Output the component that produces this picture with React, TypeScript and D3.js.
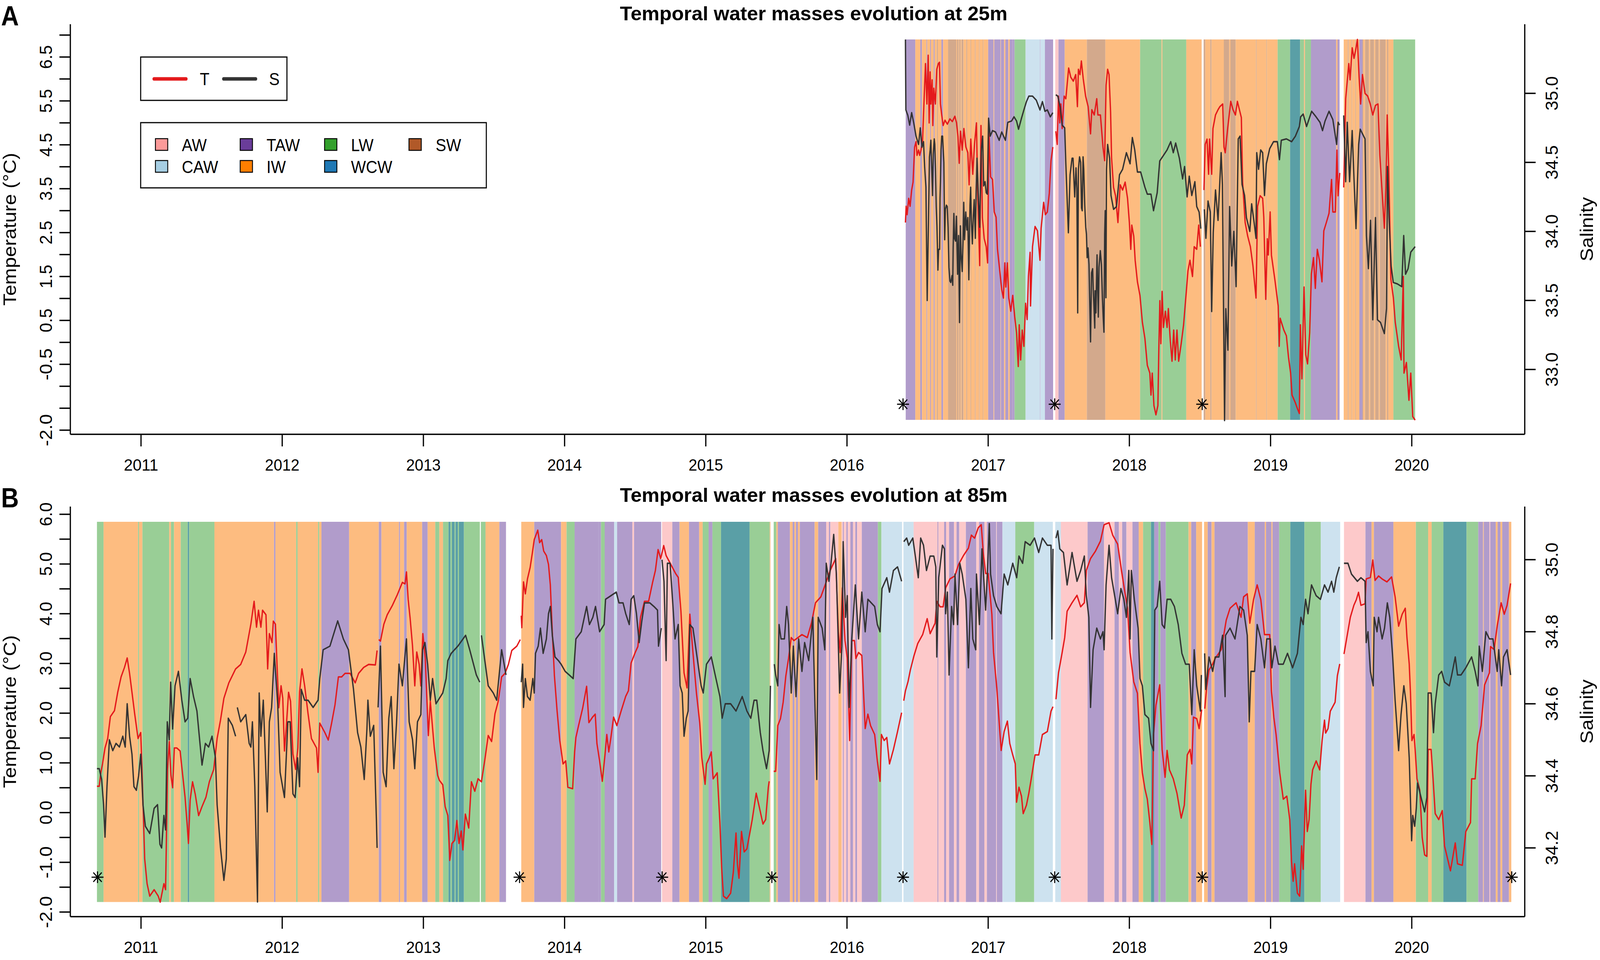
import React from 'react';
import * as d3 from 'd3';

type Pt = [number, number] | null;

const years = [2011, 2012, 2013, 2014, 2015, 2016, 2017, 2018, 2019, 2020];

const legendColors: Record<string, string> = {
  AW: '#FB9A99', CAW: '#A6CEE3', TAW: '#6A3D9A', IW: '#FF7F00', LW: '#33A02C', WCW: '#1F78B4', SW: '#B15928'
};
// colours of the bands as they come out once made see-through
const bandColors: Record<string, string> = {
  AW: '#FDC9CA', CAW: '#CDE2EF', TAW: '#B19CCB', IW: '#FDBC80', LW: '#99CE96', WCW: '#5A9FA6', SW: '#D3A98C'
};

// water mass bands: [year the band ends, mass], '' is a gap
const bandsAStart = 2016.416;
const bandsA: [number, string][] = [
  [2016.484,'TAW'],[2016.519,'IW'],[2016.531,'TAW'],[2016.563,'IW'],[2016.568,'TAW'],[2016.589,'IW'],[2016.594,'TAW'],[2016.614,'IW'],
  [2016.621,'TAW'],[2016.637,'IW'],[2016.644,'SW'],[2016.669,'IW'],[2016.681,'TAW'],[2016.716,'IW'],[2016.774,'SW'],[2016.779,'IW'],
  [2016.79,'SW'],[2016.795,'IW'],[2016.805,'SW'],[2016.811,'IW'],[2016.825,'SW'],[2016.845,'IW'],[2016.851,'SW'],[2016.875,'IW'],
  [2016.879,'SW'],[2016.906,'IW'],[2016.911,'SW'],[2016.935,'IW'],[2016.939,'SW'],[2016.962,'IW'],[2016.966,'SW'],[2017.0,'IW'],
  [2017.038,'TAW'],[2017.043,'IW'],[2017.087,'TAW'],[2017.09,'IW'],[2017.113,'TAW'],[2017.122,'IW'],[2017.143,'TAW'],[2017.153,'IW'],
  [2017.174,'TAW'],[2017.187,'TAW'],[2017.265,'LW'],[2017.367,'CAW'],[2017.37,'TAW'],[2017.402,'CAW'],[2017.46,'TAW'],[2017.475,''],
  [2017.498,'AW'],[2017.542,'TAW'],[2017.699,'IW'],[2017.83,'SW'],[2018.076,'IW'],[2018.228,'LW'],[2018.234,'IW'],[2018.403,'LW'],
  [2018.512,'IW'],[2018.526,''],[2018.538,'SW'],[2018.573,'IW'],[2018.582,'SW'],[2018.669,'IW'],[2018.707,'SW'],[2018.716,'IW'],
  [2018.753,'SW'],[2018.897,'IW'],[2018.901,'SW'],[2018.97,'IW'],[2018.974,'SW'],[2019.05,'IW'],[2019.138,'LW'],[2019.209,'WCW'],
  [2019.237,'LW'],[2019.244,'IW'],[2019.286,'LW'],[2019.465,'TAW'],[2019.474,'IW'],[2019.489,'TAW'],[2019.518,''],[2019.547,'IW'],
  [2019.553,'SW'],[2019.574,'IW'],[2019.578,'SW'],[2019.6,'IW'],[2019.604,'SW'],[2019.629,'IW'],[2019.651,'TAW'],[2019.657,'SW'],
  [2019.669,'IW'],[2019.697,'SW'],[2019.706,'IW'],[2019.733,'SW'],[2019.742,'IW'],[2019.766,'SW'],[2019.774,'IW'],[2019.815,'SW'],
  [2019.825,'IW'],[2019.834,'SW'],[2019.87,'IW'],[2020.024,'LW']
];

const bandsBStart = 2010.688;
const bandsB: [number, string][] = [
  [2010.735,'LW'],[2010.979,'IW'],[2010.986,'LW'],[2011.01,'IW'],[2011.2,'LW'],[2011.212,'IW'],[2011.234,'LW'],[2011.281,'IW'],
  [2011.331,'LW'],[2011.341,'WCW'],[2011.52,'LW'],[2011.942,'IW'],[2011.952,'TAW'],[2012.099,'IW'],[2012.109,'LW'],[2012.254,'IW'],
  [2012.262,'LW'],[2012.278,'IW'],[2012.474,'TAW'],[2012.684,'IW'],[2012.703,'TAW'],[2012.827,'IW'],[2012.834,'TAW'],[2012.863,'IW'],
  [2012.882,'TAW'],[2012.991,'IW'],[2013.03,'TAW'],[2013.084,'IW'],[2013.113,'LW'],[2013.139,'IW'],[2013.178,'LW'],[2013.192,'WCW'],
  [2013.202,'LW'],[2013.221,'WCW'],[2013.228,'LW'],[2013.244,'WCW'],[2013.252,'LW'],[2013.287,'WCW'],[2013.4,'LW'],[2013.407,''],
  [2013.44,'LW'],[2013.538,'IW'],[2013.585,'TAW'],[2013.693,''],[2013.785,'IW'],[2013.975,'TAW'],[2014.014,'IW'],[2014.071,'LW'],
  [2014.242,'TAW'],[2014.258,'TAW'],[2014.284,'LW'],[2014.351,'TAW'],[2014.372,'CAW'],[2014.48,'TAW'],[2014.492,'AW'],[2014.684,'TAW'],
  [2014.69,''],[2014.763,'AW'],[2014.814,'TAW'],[2014.881,'IW'],[2014.953,'TAW'],[2014.978,'IW'],[2015.02,'LW'],[2015.047,'TAW'],
  [2015.108,'LW'],[2015.31,'WCW'],[2015.453,'LW'],[2015.458,'IW'],[2015.481,''],[2015.5,'LW'],[2015.51,'IW'],[2015.596,'TAW'],
  [2015.615,'IW'],[2015.628,'TAW'],[2015.639,'IW'],[2015.653,'TAW'],[2015.666,'IW'],[2015.771,'TAW'],[2015.796,'IW'],[2015.853,'TAW'],
  [2015.872,'AW'],[2015.882,'TAW'],[2015.939,'AW'],[2015.962,'IW'],[2015.971,'AW'],[2015.977,'TAW'],[2015.996,'AW'],[2016.005,'TAW'],
  [2016.024,'AW'],[2016.043,'TAW'],[2016.059,'AW'],[2016.072,'TAW'],[2016.105,'AW'],[2016.219,'TAW'],[2016.244,'LW'],[2016.39,'CAW'],
  [2016.4,''],[2016.472,'CAW'],[2016.641,'AW'],[2016.647,'TAW'],[2016.688,'AW'],[2016.702,'TAW'],[2016.723,'AW'],[2016.758,'TAW'],
  [2016.776,'AW'],[2016.795,'TAW'],[2016.842,'AW'],[2016.916,'TAW'],[2016.935,'AW'],[2016.973,'TAW'],[2016.991,'AW'],[2017.057,'TAW'],
  [2017.061,'AW'],[2017.101,'TAW'],[2017.192,'CAW'],[2017.326,'LW'],[2017.458,'CAW'],[2017.475,''],[2017.515,'CAW'],[2017.704,'AW'],
  [2017.821,'TAW'],[2017.895,'AW'],[2017.926,'TAW'],[2017.949,'AW'],[2017.979,'TAW'],[2018.022,'AW'],[2018.066,'TAW'],[2018.097,'IW'],
  [2018.153,'LW'],[2018.176,'WCW'],[2018.206,'TAW'],[2018.22,'LW'],[2018.258,'TAW'],[2018.419,'LW'],[2018.438,'IW'],[2018.473,'TAW'],
  [2018.515,'IW'],[2018.529,''],[2018.555,'IW'],[2018.582,'TAW'],[2018.603,'IW'],[2018.839,'TAW'],[2018.888,'IW'],[2018.959,'TAW'],
  [2018.968,'IW'],[2019.006,'TAW'],[2019.014,'IW'],[2019.061,'TAW'],[2019.14,'LW'],[2019.24,'WCW'],[2019.356,'LW'],[2019.493,'CAW'],
  [2019.52,''],[2019.672,'AW'],[2019.715,'TAW'],[2019.732,'IW'],[2019.87,'TAW'],[2020.029,'IW'],[2020.116,'LW'],[2020.141,'IW'],
  [2020.224,'LW'],[2020.388,'WCW'],[2020.471,'LW'],[2020.505,'TAW'],[2020.51,'IW'],[2020.55,'TAW'],[2020.556,'AW'],[2020.595,'TAW'],
  [2020.608,'IW'],[2020.628,'TAW'],[2020.641,'IW'],[2020.688,'TAW'],[2020.705,'IW']
];

// survey dates marked with a star
const starsA = [2016.397, 2017.471, 2018.516];
const starsB = [2010.692, 2013.681, 2014.691, 2015.468, 2016.397, 2017.471, 2018.516, 2020.708];

const tempA: Pt[] = [
  [2016.414,2.73],[2016.419,3.1],[2016.426,2.91],[2016.437,3.28],[2016.447,3.1],[2016.458,3.47],[2016.468,3.65],[2016.479,4.45],[2016.489,4.57],[2016.496,4.26],
  [2016.507,4.38],[2016.515,4.26],[2016.524,4.38],[2016.535,4.57],[2016.545,5.43],[2016.556,6.35],[2016.566,5.43],[2016.575,6.54],[2016.582,5.0],[2016.589,6.16],
  [2016.594,5.43],[2016.603,5.98],[2016.608,4.94],[2016.615,5.79],[2016.626,5.43],[2016.636,6.22],[2016.647,6.35],[2016.655,6.38],[2016.662,5.43],[2016.671,5.18],
  [2016.681,4.94],[2016.694,5.06],[2016.711,4.97],[2016.729,5.09],[2016.746,5.03],[2016.764,5.15],[2016.776,5.0],[2016.786,4.69],[2016.795,4.08],[2016.804,4.81],
  [2016.816,4.38],[2016.828,4.87],[2016.842,4.45],[2016.856,4.32],[2016.865,3.59],[2016.877,4.63],[2016.891,3.83],[2016.903,4.51],[2016.917,5.0],[2016.926,3.34],
  [2016.94,1.75],[2016.949,4.94],[2016.959,2.85],[2016.972,2.36],[2016.986,2.18],[2016.996,1.81],[2017.005,4.81],[2017.017,3.77],[2017.031,3.71],[2017.043,2.97],
  [2017.056,2.85],[2017.066,2.12],[2017.082,1.63],[2017.096,1.2],[2017.108,1.01],[2017.118,1.81],[2017.125,1.26],[2017.136,1.81],[2017.146,1.01],[2017.16,0.71],
  [2017.174,1.07],[2017.188,0.58],[2017.201,0.22],[2017.213,-0.55],[2017.22,0.4],[2017.23,-0.4],[2017.241,0.28],[2017.253,-0.09],[2017.265,0.89],[2017.276,0.52],
  [2017.285,1.5],[2017.297,2.05],[2017.3,0.83],[2017.314,2.18],[2017.332,2.64],[2017.349,2.54],[2017.367,1.87],[2017.375,2.6],[2017.393,3.19],[2017.405,2.91],
  [2017.419,2.97],[2017.433,3.4],[2017.445,4.14],[2017.458,4.45],null,
  [2017.479,4.81],[2017.489,4.51],[2017.498,5.61],[2017.507,5.0],[2017.515,5.43],[2017.524,4.87],[2017.538,5.61],[2017.55,5.55],[2017.57,6.25],[2017.585,6.04],
  [2017.603,5.95],[2017.62,6.1],[2017.632,5.37],[2017.639,6.22],[2017.65,6.1],[2017.66,6.41],[2017.673,6.01],[2017.69,5.61],[2017.708,5.37],[2017.725,4.75],
  [2017.734,5.3],[2017.751,5.18],[2017.769,5.55],[2017.777,5.18],[2017.795,5.18],[2017.813,4.45],[2017.825,4.14],[2017.835,5.86],[2017.846,6.22],[2017.856,6.1],
  [2017.867,5.24],[2017.874,4.2],[2017.888,3.53],[2017.902,3.34],[2017.919,2.73],[2017.935,3.59],[2017.952,3.47],[2017.97,3.65],[2017.987,3.28],[2018.0,2.73],
  [2018.01,2.12],[2018.017,2.67],[2018.031,2.42],[2018.041,1.87],[2018.057,1.38],[2018.075,1.07],[2018.092,0.46],[2018.11,0.09],[2018.127,-0.52],[2018.145,-0.7],
  [2018.153,-1.2],[2018.162,-0.7],[2018.174,-1.44],[2018.188,-1.65],[2018.202,-1.44],[2018.209,-0.09],[2018.216,0.95],[2018.223,-0.03],[2018.232,1.16],[2018.241,0.34],
  [2018.255,0.71],[2018.267,0.34],[2018.276,0.77],[2018.29,0.03],[2018.302,-0.43],[2018.314,0.28],[2018.325,-0.4],[2018.337,0.28],[2018.349,-0.43],[2018.367,-0.03],
  [2018.384,0.4],[2018.401,1.07],[2018.415,1.63],[2018.429,1.87],[2018.447,1.5],[2018.459,2.18],[2018.477,2.12],[2018.491,2.67],[2018.503,2.18],null,
  [2018.528,3.47],[2018.537,4.51],[2018.55,4.63],[2018.561,3.83],[2018.568,4.63],[2018.583,3.83],[2018.592,4.87],[2018.61,5.18],[2018.628,5.3],[2018.641,5.37],
  [2018.661,5.43],[2018.67,4.45],[2018.679,4.32],[2018.696,4.87],[2018.718,5.49],[2018.734,5.3],[2018.751,5.18],[2018.765,5.49],[2018.784,5.24],[2018.793,5.12],
  [2018.802,3.65],[2018.82,2.73],[2018.838,2.42],[2018.857,2.18],[2018.875,1.75],[2018.897,1.01],[2018.908,3.1],[2018.926,3.34],[2018.944,3.28],[2018.952,2.85],
  [2018.959,1.93],[2018.966,0.98],[2018.977,2.36],[2018.984,1.99],[2018.997,2.97],[2019.006,1.99],[2019.03,1.44],[2019.054,0.83],[2019.061,-0.09],[2019.068,0.55],
  [2019.094,0.28],[2019.112,0.15],[2019.127,-0.34],[2019.142,-0.7],[2019.152,-1.2],[2019.176,-1.38],[2019.189,-1.5],[2019.204,-1.62],[2019.211,0.4],[2019.222,-0.83],
  [2019.237,1.26],[2019.249,-0.28],[2019.262,-0.49],[2019.277,0.22],[2019.289,1.56],[2019.304,1.93],[2019.317,1.23],[2019.331,2.12],[2019.346,1.87],[2019.364,1.38],
  [2019.377,2.54],[2019.395,2.73],[2019.414,2.94],[2019.432,3.71],[2019.441,2.97],[2019.459,2.97],[2019.47,4.38],[2019.478,3.34],[2019.49,3.86],null,
  [2019.518,3.53],[2019.532,5.55],[2019.554,6.35],[2019.563,5.98],[2019.578,6.71],[2019.591,6.47],[2019.602,6.65],[2019.615,6.9],[2019.627,6.04],[2019.638,5.43],
  [2019.651,6.1],[2019.669,5.67],[2019.688,5.61],[2019.706,5.43],[2019.724,5.18],[2019.743,5.4],[2019.761,5.43],[2019.774,4.26],[2019.788,3.53],[2019.806,2.6],
  [2019.817,3.53],[2019.826,5.18],[2019.837,3.95],[2019.852,1.44],[2019.87,1.01],[2019.883,0.46],[2019.907,-0.09],[2019.925,-0.4],[2019.94,1.5],[2019.945,-0.7],
  [2019.962,-0.46],[2019.98,-1.32],[2019.993,-0.7],[2020.007,-1.69],[2020.024,-1.77]
];

const salA: Pt[] = [
  [2016.414,35.39],[2016.417,34.88],[2016.431,34.84],[2016.444,34.77],[2016.458,34.86],[2016.472,34.79],[2016.489,34.69],[2016.507,34.63],[2016.519,34.75],[2016.531,34.61],
  [2016.542,34.65],[2016.55,34.47],[2016.559,34.32],[2016.568,33.5],[2016.581,34.33],[2016.584,34.54],[2016.589,34.59],[2016.594,34.66],[2016.6,34.46],[2016.606,34.26],
  [2016.611,34.56],[2016.618,34.67],[2016.622,34.63],[2016.627,34.44],[2016.632,34.18],[2016.637,34.04],[2016.641,33.87],[2016.644,33.72],[2016.649,33.87],[2016.656,33.87],
  [2016.659,34.24],[2016.662,34.36],[2016.666,34.59],[2016.671,34.69],[2016.677,34.69],[2016.686,34.5],[2016.689,34.2],[2016.692,33.94],[2016.697,34.16],[2016.704,34.19],
  [2016.71,34.18],[2016.716,34.03],[2016.722,33.74],[2016.729,33.64],[2016.735,33.63],[2016.744,33.68],[2016.749,33.61],[2016.752,33.88],[2016.757,34.13],[2016.762,33.95],
  [2016.769,33.93],[2016.775,34.11],[2016.783,33.69],[2016.79,33.97],[2016.797,33.34],[2016.803,34.04],[2016.808,33.84],[2016.816,33.71],[2016.822,33.93],[2016.827,34.21],
  [2016.833,33.94],[2016.841,34.14],[2016.849,34.01],[2016.856,34.1],[2016.863,33.65],[2016.871,34.19],[2016.876,34.32],[2016.881,34.08],[2016.888,33.91],[2016.895,34.12],
  [2016.901,34.23],[2016.909,33.95],[2016.915,34.29],[2016.921,34.53],[2016.932,34.21],[2016.94,34.03],[2016.947,34.42],[2016.953,34.61],[2016.961,34.69],[2016.968,34.33],
  [2016.978,34.36],[2016.986,34.28],[2016.994,34.27],[2017.0,34.65],[2017.003,34.82],[2017.014,34.69],[2017.031,34.73],
  [2017.052,34.72],[2017.078,34.66],[2017.096,34.72],[2017.122,34.66],[2017.139,34.79],[2017.166,34.8],[2017.183,34.83],[2017.201,34.8],[2017.215,34.74],[2017.236,34.82],
  [2017.253,34.88],[2017.271,34.94],[2017.288,34.98],[2017.314,34.98],[2017.341,34.95],[2017.367,34.88],[2017.384,34.94],[2017.402,34.87],[2017.419,34.88],[2017.44,34.83],[2017.458,34.86],null,
  [2017.479,34.99],[2017.493,34.98],[2017.51,34.9],[2017.524,34.77],[2017.542,34.75],[2017.55,34.49],[2017.568,33.99],[2017.58,34.41],[2017.594,34.53],
  [2017.601,34.53],[2017.608,34.36],[2017.613,34.25],[2017.622,34.46],[2017.628,34.31],[2017.634,33.41],[2017.639,34.45],[2017.647,34.54],[2017.655,34.5],[2017.661,34.17],
  [2017.666,34.15],[2017.672,34.54],[2017.677,34.45],[2017.684,34.19],[2017.691,34.03],[2017.696,33.98],[2017.701,33.81],[2017.707,33.88],[2017.714,33.76],[2017.725,33.2],
  [2017.732,33.7],[2017.74,33.73],[2017.744,33.58],[2017.749,33.46],[2017.755,33.3],[2017.757,33.57],[2017.763,33.41],[2017.771,33.83],[2017.78,33.38],[2017.785,33.74],
  [2017.794,33.86],[2017.802,33.76],[2017.809,33.52],[2017.815,33.37],[2017.82,33.27],[2017.825,33.98],[2017.829,34.15],[2017.834,33.52],[2017.838,34.45],[2017.846,34.63],[2017.86,34.53],[2017.87,34.26],[2017.888,34.16],[2017.909,34.18],
  [2017.93,34.41],[2017.952,34.45],[2017.979,34.57],[2018.005,34.49],[2018.021,34.68],[2018.038,34.59],[2018.057,34.43],[2018.08,34.43],[2018.11,34.32],[2018.127,34.27],
  [2018.153,34.27],[2018.171,34.15],[2018.197,34.28],[2018.215,34.51],[2018.241,34.55],[2018.267,34.59],[2018.293,34.65],[2018.311,34.57],[2018.328,34.64],[2018.354,34.53],
  [2018.377,34.38],[2018.391,34.47],[2018.409,34.25],[2018.424,34.4],[2018.442,34.26],[2018.464,34.36],[2018.477,34.18],[2018.494,34.14],[2018.506,34.02],null,
  [2018.531,34.16],[2018.542,33.95],[2018.557,34.22],[2018.573,34.14],[2018.583,33.42],[2018.594,33.99],[2018.61,34.3],[2018.628,34.08],[2018.65,34.57],[2018.659,34.34],
  [2018.674,32.63],[2018.683,33.44],[2018.698,33.14],[2018.71,34.18],[2018.725,33.75],[2018.74,34.0],[2018.756,33.6],[2018.771,34.67],[2018.784,34.69],[2018.798,34.34],
  [2018.816,34.26],[2018.829,34.1],[2018.853,34.0],[2018.866,34.2],[2018.884,34.06],[2018.897,33.95],[2018.902,34.57],[2018.915,34.45],[2018.93,34.59],[2018.944,34.57],
  [2018.957,34.26],[2018.97,34.49],[2018.994,34.6],[2019.021,34.65],[2019.048,34.65],[2019.063,34.52],[2019.076,34.66],[2019.112,34.67],[2019.149,34.65],[2019.176,34.69],
  [2019.204,34.76],[2019.213,34.83],[2019.231,34.85],[2019.255,34.76],[2019.291,34.87],[2019.322,34.83],[2019.35,34.79],[2019.368,34.73],[2019.386,34.8],[2019.414,34.87],
  [2019.441,34.81],[2019.468,34.63],[2019.478,34.79],[2019.489,34.77],null,
  [2019.518,34.84],[2019.532,34.36],[2019.543,34.79],[2019.56,34.36],[2019.578,34.73],[2019.591,34.38],[2019.605,34.02],[2019.624,34.63],[2019.635,34.74],[2019.669,34.67],
  [2019.679,33.97],[2019.693,33.73],[2019.708,34.08],[2019.724,33.36],[2019.743,34.1],[2019.757,33.36],[2019.779,33.34],[2019.806,33.26],[2019.821,33.44],[2019.828,34.47],
  [2019.839,34.1],[2019.854,33.75],[2019.869,33.63],[2019.898,33.62],[2019.929,33.6],[2019.943,33.97],[2019.956,33.69],[2019.974,33.73],[2019.993,33.85],[2020.024,33.89]
];

const tempB: Pt[] = [
  [2010.688,0.53],[2010.704,0.53],[2010.716,0.81],[2010.728,0.99],[2010.745,1.3],[2010.764,1.49],[2010.783,1.93],[2010.812,2.05],[2010.835,2.42],[2010.859,2.73],
  [2010.883,2.92],[2010.902,3.11],[2010.919,2.8],[2010.936,2.42],[2010.955,1.99],[2010.979,1.49],[2010.998,1.61],[2011.007,0.87],[2011.026,-0.93],[2011.043,-1.43],
  [2011.062,-1.68],[2011.093,-1.55],[2011.122,-1.68],[2011.136,-1.8],[2011.162,-1.43],[2011.174,-1.55],[2011.188,0.87],[2011.2,1.43],[2011.212,0.75],[2011.224,0.5],
  [2011.236,1.3],[2011.253,1.3],[2011.277,1.24],[2011.293,0.81],[2011.312,0.31],[2011.327,-0.25],[2011.336,-0.62],[2011.348,0.25],[2011.365,0.62],[2011.384,0.37],
  [2011.408,-0.06],[2011.432,0.12],[2011.46,0.31],[2011.484,0.62],[2011.515,0.87],[2011.539,1.49],[2011.563,1.86],[2011.587,2.3],[2011.622,2.61],[2011.67,2.89],
  [2011.706,2.98],[2011.742,3.23],[2011.778,3.79],[2011.801,4.25],[2011.818,3.73],[2011.832,4.07],[2011.849,3.73],[2011.861,4.07],[2011.885,3.98],[2011.897,2.89],
  [2011.909,3.6],[2011.928,3.42],[2011.937,3.85],[2011.952,3.79],[2011.964,2.92],[2011.976,2.11],[2011.992,2.55],[2012.004,2.3],[2012.016,1.24],[2012.028,1.68],
  [2012.045,2.42],[2012.059,2.24],[2012.076,1.18],[2012.095,0.87],[2012.111,1.3],[2012.123,2.42],[2012.14,2.89],[2012.159,2.55],[2012.183,1.99],[2012.207,1.49],
  [2012.243,1.3],[2012.254,0.81],[2012.266,1.8],[2012.302,1.61],[2012.326,1.46],[2012.35,1.8],[2012.374,2.17],[2012.398,2.73],[2012.421,2.73],[2012.445,2.8],
  [2012.481,2.8],[2012.517,2.61],[2012.541,2.8],[2012.577,2.92],[2012.612,2.98],[2012.66,2.97],[2012.672,3.26],null,
  [2012.684,3.48],[2012.696,3.45],[2012.72,3.79],[2012.744,3.98],[2012.779,4.16],[2012.815,4.38],[2012.851,4.63],[2012.87,4.6],[2012.88,4.84],[2012.892,4.29],
  [2012.906,3.91],[2012.923,3.35],[2012.939,2.55],[2012.953,3.23],[2012.97,2.98],[2012.982,2.55],[2012.996,3.6],[2013.013,3.11],[2013.035,1.55],[2013.049,2.24],
  [2013.077,1.3],[2013.101,0.75],[2013.113,0.65],[2013.137,0.56],[2013.154,0.12],[2013.173,-0.06],[2013.187,-0.96],[2013.202,-0.62],[2013.221,-0.56],[2013.237,-0.16],
  [2013.252,-0.62],[2013.268,-0.37],[2013.28,-0.75],[2013.297,-0.03],[2013.321,-0.31],[2013.34,0.62],[2013.364,0.43],[2013.387,0.68],[2013.411,0.62],[2013.435,1.06],
  [2013.459,1.55],[2013.483,1.43],[2013.507,1.99],[2013.53,2.24],[2013.554,2.73],[2013.578,2.8],[2013.602,2.98],[2013.626,3.26],[2013.662,3.35],[2013.686,3.48],null,
  [2013.693,3.96],[2013.697,3.72],[2013.709,4.64],[2013.722,4.4],[2013.737,4.7],[2013.756,4.93],[2013.772,5.23],[2013.785,5.49],[2013.81,5.68],[2013.823,5.43],
  [2013.838,5.49],[2013.852,5.26],[2013.871,5.17],[2013.886,4.99],[2013.899,4.58],[2013.913,3.63],[2013.928,2.75],[2013.947,2.04],[2013.966,1.45],[2013.989,0.98],
  [2014.008,1.04],[2014.023,0.51],[2014.057,0.48],[2014.071,1.22],[2014.08,1.51],[2014.099,1.75],[2014.128,2.1],[2014.156,2.54],[2014.172,1.81],[2014.198,1.92],
  [2014.217,1.98],[2014.229,1.39],[2014.248,1.04],[2014.267,0.63],[2014.286,1.16],[2014.299,1.57],[2014.313,1.22],[2014.328,1.51],[2014.347,1.92],[2014.37,1.75],
  [2014.4,2.04],[2014.433,2.34],[2014.452,2.45],[2014.471,3.01],[2014.5,3.22],[2014.519,3.34],[2014.538,3.93],[2014.566,4.25],[2014.595,4.25],[2014.624,4.64],
  [2014.643,4.87],[2014.662,5.29],[2014.681,5.11],[2014.702,5.37],[2014.719,5.17],[2014.747,5.02],[2014.786,4.81],[2014.805,4.73],[2014.824,4.05],[2014.846,2.81],
  [2014.867,2.51],[2014.887,3.99],[2014.909,3.22],[2014.934,2.4],[2014.957,1.81],[2014.972,1.1],[2014.995,0.57],[2015.005,0.98],[2015.024,1.1],[2015.039,1.22],
  [2015.052,0.68],[2015.081,0.8],[2015.1,-0.2],[2015.113,-1.14],[2015.125,-1.68],[2015.148,-1.73],[2015.176,-1.62],[2015.195,-1.2],[2015.214,-0.41],[2015.224,-1.03],
  [2015.235,-1.32],[2015.253,-0.38],[2015.272,-0.79],[2015.291,-0.73],[2015.31,-0.44],[2015.329,-0.14],[2015.357,0.39],[2015.376,0.15],[2015.405,-0.23],[2015.424,-0.14],
  [2015.443,0.51],[2015.449,0.63],null,
  [2015.481,0.83],[2015.495,0.83],[2015.51,1.75],[2015.529,1.89],[2015.548,2.22],[2015.567,2.75],[2015.586,3.1],[2015.605,3.52],[2015.624,3.46],[2015.653,3.52],
  [2015.681,3.58],[2015.719,3.52],[2015.748,3.81],[2015.777,4.22],[2015.815,4.34],[2015.853,4.64],[2015.881,4.87],[2015.92,5.11],[2015.939,3.63],[2015.952,3.22],
  [2015.967,4.52],[2015.986,3.46],[2016.002,3.1],[2016.019,1.45],[2016.034,3.46],[2016.053,3.46],[2016.063,3.1],[2016.082,3.22],[2016.105,3.16],[2016.129,1.69],
  [2016.148,1.98],[2016.167,1.75],[2016.196,1.57],[2016.215,1.04],[2016.234,0.63],[2016.244,1.57],[2016.263,1.45],[2016.282,1.51],[2016.301,0.98],[2016.329,1.27],
  [2016.358,1.63],[2016.387,2.01],null,
  [2016.402,2.25],[2016.414,2.45],[2016.432,2.63],[2016.449,2.87],[2016.475,3.16],[2016.501,3.4],[2016.536,3.58],[2016.568,3.9],[2016.589,3.6],[2016.624,3.81],
  [2016.636,4.25],[2016.659,4.14],[2016.681,4.14],[2016.699,4.52],[2016.729,4.7],[2016.764,4.76],[2016.79,4.99],[2016.825,5.17],[2016.86,5.32],[2016.881,5.58],
  [2016.904,5.52],[2016.93,5.73],[2016.951,5.79],[2016.965,5.23],[2016.982,4.81],[2017.0,4.81],[2017.026,3.99],[2017.038,3.22],[2017.061,2.51],[2017.078,1.81],
  [2017.092,1.25],[2017.113,1.63],[2017.136,1.84],[2017.153,1.39],[2017.174,1.16],[2017.192,0.98],[2017.201,0.21],[2017.218,0.51],[2017.236,0.33],[2017.248,-0.02],
  [2017.271,0.15],[2017.288,0.39],[2017.305,0.68],[2017.332,1.16],[2017.358,1.16],[2017.384,1.57],[2017.419,1.63],[2017.445,2.04],[2017.459,2.13],null,
  [2017.48,2.28],[2017.498,2.81],[2017.524,3.22],[2017.542,3.52],[2017.559,4.05],[2017.594,4.22],[2017.629,4.37],[2017.655,4.14],[2017.681,4.22],[2017.695,4.87],
  [2017.725,5.11],[2017.76,5.26],[2017.795,5.46],[2017.821,5.79],[2017.856,5.83],[2017.882,5.58],[2017.917,5.4],[2017.944,4.87],[2017.97,4.4],[2017.987,4.11],
  [2018.005,3.22],[2018.031,2.63],[2018.057,2.4],[2018.075,1.39],[2018.092,0.8],[2018.11,0.48],[2018.127,0.27],[2018.145,-0.2],[2018.159,-0.64],[2018.171,1.57],
  [2018.188,2.16],[2018.215,2.57],[2018.232,1.27],[2018.253,0.71],[2018.267,1.25],[2018.284,0.86],[2018.311,0.68],[2018.337,0.39],[2018.367,-0.11],[2018.389,0.15],
  [2018.41,1.16],[2018.43,1.27],[2018.442,0.98],[2018.454,1.92],[2018.477,1.89],[2018.494,1.69],[2018.512,2.07],null,
  [2018.534,2.09],[2018.547,2.51],[2018.564,2.87],[2018.59,2.99],[2018.608,3.1],[2018.651,3.28],[2018.669,3.58],[2018.686,3.87],[2018.713,4.11],[2018.756,4.22],
  [2018.791,3.93],[2018.809,4.34],[2018.835,4.4],[2018.853,3.81],[2018.879,4.28],[2018.905,4.58],[2018.931,4.28],[2018.957,3.58],[2018.964,3.58],[2018.994,3.58],
  [2019.006,2.45],[2019.023,1.92],[2019.039,1.57],[2019.065,0.8],[2019.09,0.27],[2019.115,0.33],[2019.136,-0.14],[2019.148,-0.97],[2019.16,-1.38],[2019.17,-1.03],
  [2019.19,-1.62],[2019.206,-1.68],[2019.22,-0.67],[2019.231,-1.14],[2019.248,0.45],[2019.26,-0.38],[2019.273,-0.14],[2019.286,0.57],[2019.298,0.86],[2019.323,1.04],
  [2019.348,0.86],[2019.365,1.45],[2019.382,1.86],[2019.39,1.6],[2019.407,1.69],[2019.423,2.04],[2019.457,2.22],[2019.473,2.75],[2019.49,2.99],null,
  [2019.52,3.19],[2019.54,3.52],[2019.565,3.93],[2019.59,4.17],[2019.607,4.28],[2019.623,4.43],[2019.64,4.17],[2019.669,4.2],[2019.677,4.7],[2019.707,4.73],
  [2019.724,5.08],[2019.74,4.67],[2019.765,4.76],[2019.79,4.7],[2019.824,4.64],[2019.857,4.74],[2019.882,4.34],[2019.907,3.75],[2019.932,3.99],[2019.954,4.11],
  [2019.966,3.52],[2019.982,2.99],[2019.991,2.4],[2020.001,1.45],[2020.016,1.57],[2020.024,1.27],[2020.037,0.68],[2020.057,0.45],[2020.074,-0.5],[2020.091,-0.85],
  [2020.107,-0.88],[2020.116,1.27],[2020.137,1.27],[2020.151,0.68],[2020.166,-0.02],[2020.191,-0.14],[2020.216,0.04],[2020.232,-0.67],[2020.274,-1.17],[2020.308,-0.61],
  [2020.324,-1.03],[2020.358,-1.06],[2020.383,-0.38],[2020.416,-0.2],[2020.424,0.68],[2020.449,0.68],[2020.466,1.39],[2020.491,1.75],[2020.516,2.57],[2020.55,2.81],
  [2020.558,3.34],[2020.583,3.28],[2020.605,3.75],[2020.633,4.22],[2020.655,3.99],[2020.675,4.17],[2020.7,4.61]
];

const salB: Pt[] = [
  [2010.688,34.42],[2010.704,34.42],[2010.721,34.39],[2010.735,34.32],[2010.745,34.23],[2010.759,34.37],[2010.776,34.5],[2010.8,34.47],[2010.823,34.49],[2010.847,34.48],
  [2010.871,34.51],[2010.888,34.48],[2010.902,34.6],[2010.919,34.51],[2010.936,34.46],[2010.95,34.37],[2010.967,34.36],[2010.983,34.4],[2010.998,34.46],[2011.014,34.32],
  [2011.031,34.26],[2011.062,34.24],[2011.093,34.31],[2011.117,34.32],[2011.134,34.21],[2011.146,34.2],[2011.162,34.29],[2011.174,34.25],[2011.186,34.55],[2011.2,34.5],
  [2011.21,34.66],[2011.224,34.53],[2011.241,34.65],[2011.265,34.69],[2011.289,34.61],[2011.312,34.55],[2011.331,34.56],[2011.348,34.67],[2011.372,34.62],[2011.396,34.58],
  [2011.432,34.43],[2011.456,34.49],[2011.479,34.48],[2011.503,34.51],[2011.527,34.45],[2011.539,34.32],[2011.563,34.2],[2011.587,34.11],[2011.604,34.17],[2011.618,34.56],
  [2011.647,34.54],[2011.67,34.51],null,
  [2011.682,34.59],[2011.706,34.55],[2011.742,34.57],[2011.766,34.49],[2011.778,34.48],[2011.789,34.55],[2011.806,34.37],[2011.825,34.05],[2011.837,34.63],[2011.849,34.51],
  [2011.866,34.61],[2011.88,34.46],[2011.894,34.3],[2011.909,34.55],[2011.925,34.59],[2011.944,34.74],[2011.968,34.6],[2011.985,34.41],[2012.016,34.34],[2012.04,34.55],
  [2012.056,34.55],[2012.076,34.35],[2012.092,34.34],[2012.109,34.45],[2012.123,34.37],[2012.135,34.64],[2012.159,34.61],[2012.183,34.61],[2012.219,34.59],[2012.254,34.61],
  [2012.266,34.67],[2012.29,34.75],[2012.338,34.76],[2012.393,34.83],[2012.433,34.78],[2012.469,34.75],[2012.505,34.64],[2012.534,34.52],[2012.557,34.48],[2012.581,34.39],
  [2012.6,34.53],[2012.607,34.61],[2012.624,34.51],[2012.648,34.54],[2012.667,34.28],[2012.672,34.2],null,
  [2012.679,34.59],[2012.696,34.76],[2012.715,34.41],[2012.736,34.37],[2012.755,34.56],[2012.772,34.62],[2012.791,34.42],[2012.81,34.55],[2012.827,34.71],[2012.851,34.65],
  [2012.88,34.78],[2012.899,34.55],[2012.923,34.5],[2012.939,34.42],[2012.958,34.55],[2012.982,34.57],[2012.994,34.75],[2013.011,34.77],[2013.03,34.71],[2013.049,34.61],
  [2013.065,34.67],[2013.089,34.6],[2013.137,34.63],[2013.161,34.67],[2013.173,34.72],[2013.197,34.74],[2013.244,34.76],[2013.299,34.79],[2013.328,34.75],[2013.375,34.68],[2013.399,34.66],null,
  [2013.411,34.79],[2013.435,34.72],[2013.459,34.65],[2013.495,34.63],[2013.519,34.61],[2013.554,34.75],[2013.585,34.68],null,
  [2013.693,34.66],[2013.703,34.71],[2013.709,34.59],[2013.722,34.67],[2013.737,34.62],[2013.756,34.61],[2013.775,34.67],[2013.785,34.63],[2013.794,34.74],[2013.813,34.76],
  [2013.829,34.81],[2013.848,34.74],[2013.871,34.78],[2013.886,34.85],[2013.899,34.87],[2013.913,34.79],[2013.932,34.73],[2013.956,34.72],[2013.975,34.71],[2014.004,34.69],
  [2014.033,34.68],[2014.061,34.67],[2014.08,34.78],[2014.118,34.8],[2014.156,34.87],[2014.176,34.82],[2014.2,34.84],[2014.219,34.87],[2014.248,34.8],[2014.28,34.82],
  [2014.29,34.89],[2014.328,34.9],[2014.366,34.91],[2014.385,34.88],[2014.414,34.88],[2014.433,34.85],[2014.458,34.82],[2014.471,34.89],[2014.49,34.9],[2014.509,34.85],
  [2014.528,34.77],[2014.547,34.83],[2014.566,34.88],[2014.604,34.88],[2014.633,34.87],[2014.658,34.86],[2014.665,34.76],[2014.685,34.81],null,
  [2014.69,35.0],[2014.704,34.94],[2014.719,34.72],[2014.728,34.99],[2014.747,34.99],[2014.766,34.88],[2014.782,34.78],[2014.805,34.82],[2014.818,34.65],[2014.833,34.63],
  [2014.846,34.51],[2014.862,34.56],[2014.875,34.58],[2014.887,34.82],[2014.909,34.81],[2014.938,34.73],[2014.967,34.65],[2014.982,34.63],[2015.005,34.71],[2015.039,34.73],
  [2015.072,34.67],[2015.1,34.62],[2015.116,34.56],[2015.138,34.6],[2015.176,34.6],[2015.214,34.58],[2015.258,34.62],[2015.291,34.58],[2015.319,34.56],[2015.342,34.61],
  [2015.361,34.61],[2015.386,34.52],[2015.405,34.47],[2015.43,34.42],[2015.449,34.47],[2015.458,34.65],null,
  [2015.485,34.71],[2015.495,34.68],[2015.51,34.65],[2015.519,34.82],[2015.533,34.78],[2015.557,34.78],[2015.573,34.87],[2015.586,34.82],[2015.605,34.63],[2015.62,34.76],
  [2015.639,34.62],[2015.658,34.78],[2015.681,34.69],[2015.7,34.77],[2015.729,34.72],[2015.758,34.84],[2015.786,34.39],[2015.796,34.84],[2015.824,34.81],[2015.843,34.75],
  [2015.853,34.99],[2015.872,34.94],[2015.887,34.99],[2015.906,35.07],[2015.925,34.96],[2015.948,34.63],[2015.964,34.76],[2015.973,35.05],[2015.99,34.84],[2016.002,34.9],
  [2016.015,34.59],[2016.034,34.78],[2016.059,34.93],[2016.082,34.78],[2016.105,34.91],[2016.129,34.8],[2016.148,34.89],[2016.196,34.87],[2016.215,34.82],[2016.234,34.8],
  [2016.248,34.92],[2016.282,34.95],[2016.301,34.91],[2016.329,34.97],[2016.358,34.98],[2016.387,34.94],null,
  [2016.402,35.05],[2016.423,35.06],[2016.437,35.04],[2016.466,35.06],[2016.484,35.01],[2016.505,34.95],[2016.522,35.06],[2016.542,35.04],[2016.563,34.97],[2016.589,35.01],
  [2016.615,35.01],[2016.629,34.98],[2016.636,34.73],[2016.65,34.95],[2016.676,35.04],[2016.69,35.03],[2016.699,34.85],[2016.711,34.91],[2016.723,34.68],[2016.741,34.87],
  [2016.755,34.82],[2016.765,34.96],[2016.783,34.82],[2016.799,34.99],[2016.816,34.96],[2016.842,34.89],[2016.86,34.7],[2016.877,34.92],[2016.891,34.78],[2016.912,34.75],
  [2016.917,34.96],[2016.938,34.82],[2016.956,35.03],[2016.982,34.86],[2016.994,34.96],[2017.008,35.1],[2017.017,34.96],[2017.038,34.9],[2017.061,34.87],[2017.091,34.85],
  [2017.113,34.96],[2017.139,34.93],[2017.174,34.99],[2017.202,34.95],[2017.218,35.01],[2017.244,34.99],[2017.262,35.05],[2017.297,35.04],[2017.328,35.06],[2017.358,35.02],
  [2017.384,35.06],[2017.419,35.04],[2017.445,35.04],[2017.451,34.78],[2017.459,35.03],null,
  [2017.48,35.06],[2017.493,35.08],[2017.507,35.03],[2017.533,35.02],[2017.559,34.93],[2017.594,35.02],[2017.629,34.94],[2017.655,34.97],[2017.681,35.01],[2017.695,34.9],
  [2017.713,34.84],[2017.725,34.59],[2017.743,34.75],[2017.769,34.81],[2017.795,34.78],[2017.813,34.8],[2017.821,34.75],[2017.835,34.93],[2017.856,35.04],[2017.874,34.95],
  [2017.9,34.89],[2017.917,34.85],[2017.94,34.92],[2017.961,34.89],[2017.979,34.84],[2017.996,34.97],[2018.005,34.78],[2018.014,34.97],[2018.035,34.89],[2018.062,34.81],
  [2018.075,34.67],[2018.092,34.65],[2018.11,34.57],[2018.136,34.56],[2018.153,34.49],[2018.171,34.47],[2018.18,34.86],[2018.197,34.87],[2018.215,34.94],[2018.232,34.82],
  [2018.249,34.81],[2018.267,34.89],[2018.293,34.89],[2018.319,34.87],[2018.346,34.82],[2018.372,34.74],[2018.398,34.71],[2018.424,34.71],[2018.442,34.57],[2018.459,34.75],
  [2018.477,34.65],[2018.503,34.58],[2018.51,34.68],null,
  [2018.533,34.74],[2018.541,34.64],[2018.564,34.73],[2018.59,34.69],[2018.608,34.73],[2018.634,34.73],[2018.66,34.79],[2018.678,34.62],[2018.681,34.79],[2018.713,34.81],
  [2018.748,34.78],[2018.783,34.87],[2018.809,34.86],[2018.835,34.79],[2018.849,34.55],[2018.861,34.69],[2018.887,34.69],[2018.905,34.82],[2018.931,34.78],[2018.957,34.7],
  [2018.973,34.78],[2018.998,34.78],[2019.009,34.7],[2019.031,34.76],[2019.056,34.71],[2019.09,34.71],[2019.12,34.74],[2019.156,34.7],[2019.19,34.74],[2019.215,34.84],
  [2019.231,34.82],[2019.248,34.89],[2019.265,34.85],[2019.29,34.93],[2019.323,34.9],[2019.353,34.89],[2019.382,34.93],[2019.407,34.91],[2019.432,34.94],[2019.448,34.91],
  [2019.465,34.95],[2019.487,34.98],null,
  [2019.52,34.99],[2019.548,34.99],[2019.573,34.96],[2019.615,34.94],[2019.64,34.95],[2019.669,34.94],[2019.677,34.77],[2019.69,34.8],[2019.707,34.69],[2019.727,34.65],
  [2019.734,34.84],[2019.754,34.8],[2019.765,34.84],[2019.79,34.78],[2019.807,34.81],[2019.827,34.88],[2019.844,34.84],[2019.865,34.73],[2019.882,34.61],[2019.907,34.47],
  [2019.924,34.57],[2019.944,34.65],[2019.961,34.6],[2019.971,34.53],[2019.982,34.45],[2019.999,34.22],[2020.007,34.29],[2020.021,34.26],[2020.032,34.31],[2020.041,34.38],
  [2020.066,34.34],[2020.091,34.3],[2020.107,34.34],[2020.116,34.63],[2020.137,34.63],[2020.154,34.52],[2020.166,34.6],[2020.191,34.68],[2020.212,34.69],[2020.232,34.66],
  [2020.266,34.65],[2020.283,34.68],[2020.308,34.73],[2020.324,34.68],[2020.349,34.68],[2020.383,34.7],[2020.424,34.73],[2020.449,34.69],[2020.469,34.65],[2020.478,34.76],
  [2020.5,34.69],[2020.525,34.8],[2020.55,34.78],[2020.575,34.78],[2020.605,34.69],[2020.616,34.75],[2020.636,34.65],[2020.65,34.73],[2020.675,34.75],[2020.7,34.68]
];

const tempTicksA = d3.range(-2, 7.01, 0.5);
const tempLabelsA = [-2, -0.5, 0.5, 1.5, 2.5, 3.5, 4.5, 5.5, 6.5];
const salTicksA = [33, 33.5, 34, 34.5, 35];
const tempTicksB = d3.range(-2, 6.01, 0.5);
const tempLabelsB = [-2, -1, 0, 1, 2, 3, 4, 5, 6];
const salTicksB = [34.2, 34.4, 34.6, 34.8, 35];

const FONT = '"Liberation Sans", Arial, sans-serif';
const AXIS_L = 200;
const AXIS_R = 4336;
const TICK = 31;

const xScale = d3.scaleLinear().domain([2011, 2020]).range([401, 4014.7]);

interface PanelProps {
  letter: string;
  letterY: number;
  title: string;
  titleY: number;
  axisTop: number;
  axisBottom: number;
  bandTop: number;
  bandBottom: number;
  bandStart: number;
  bands: [number, string][];
  stars: number[];
  starY: number;
  temp: Pt[];
  sal: Pt[];
  tempDomain: [number, number];
  tempRange: [number, number];
  salDomain: [number, number];
  salRange: [number, number];
  tempTicks: number[];
  tempLabels: number[];
  salTicks: number[];
}

const Panel: React.FC<PanelProps> = p => {
  const yT = d3.scaleLinear().domain(p.tempDomain).range(p.tempRange);
  const yS = d3.scaleLinear().domain(p.salDomain).range(p.salRange);

  const lineT = d3.line<Pt>().defined(d => d !== null).x(d => xScale(d![0])).y(d => yT(d![1]));
  const lineS = d3.line<Pt>().defined(d => d !== null).x(d => xScale(d![0])).y(d => yS(d![1]));

  const midY = (p.axisTop + p.axisBottom) / 2;

  return (
    <g fontFamily={FONT}>
      <text x={3} y={p.letterY} fontSize={70} fontWeight="bold">{p.letter}</text>
      <text x={1763} y={p.titleY} fontSize={50} fontWeight="bold" textLength={1102} lengthAdjust="spacingAndGlyphs">{p.title}</text>

      {/* Water mass bands */}
      <g>
        {p.bands.map(([end, mass], i) => {
          if (!mass) return null;
          const start = i === 0 ? p.bandStart : p.bands[i - 1][0];
          return (
            <rect
              key={i}
              x={xScale(start)}
              y={p.bandTop}
              width={xScale(end) - xScale(start)}
              height={p.bandBottom - p.bandTop}
              fill={bandColors[mass]}
            />
          );
        })}
      </g>

      <path d={lineT(p.temp) || ''} fill="none" stroke="#E41A1C" strokeWidth={3.8} strokeLinejoin="round" />
      <path d={lineS(p.sal) || ''} fill="none" stroke="#333333" strokeWidth={3.8} strokeLinejoin="round" />

      {/* Stars */}
      {p.stars.map(s => (
        <g key={s} transform={`translate(${xScale(s)},${p.starY})`} stroke="#000" strokeWidth={3}>
          <line x1={-17} x2={17} y1={0} y2={0} />
          <line x1={0} x2={0} y1={-15} y2={15} />
          <line x1={-12} x2={12} y1={-12} y2={12} />
          <line x1={-12} x2={12} y1={12} y2={-12} />
        </g>
      ))}

      {/* X axis */}
      <line x1={AXIS_L} x2={AXIS_R} y1={p.axisBottom} y2={p.axisBottom} stroke="#000" strokeWidth={3.5} />
      {years.map(y => (
        <g key={y} transform={`translate(${xScale(y)},${p.axisBottom})`}>
          <line y2={TICK} stroke="#000" strokeWidth={3.5} />
          <text y={93} textAnchor="middle" fontSize={42} textLength={98} lengthAdjust="spacingAndGlyphs">{y}</text>
        </g>
      ))}

      {/* Temperature axis */}
      <line x1={AXIS_L} x2={AXIS_L} y1={p.axisTop} y2={p.axisBottom} stroke="#000" strokeWidth={3.5} />
      {p.tempTicks.map(t => (
        <line key={t} x1={AXIS_L - TICK} x2={AXIS_L} y1={yT(t)} y2={yT(t)} stroke="#000" strokeWidth={3.5} />
      ))}
      {p.tempLabels.map(t => (
        <text
          key={t}
          transform={`translate(148,${yT(t)}) rotate(-90)`}
          textAnchor="middle"
          fontSize={50}
          textLength={t < 0 ? 82 : 61}
          lengthAdjust="spacingAndGlyphs"
        >
          {t.toFixed(1)}
        </text>
      ))}
      <text transform={`translate(46,${midY}) rotate(-90)`} textAnchor="middle" fontSize={51}>Temperature (°C)</text>

      {/* Salinity axis */}
      <line x1={AXIS_R} x2={AXIS_R} y1={p.axisTop} y2={p.axisBottom} stroke="#000" strokeWidth={3.5} />
      {p.salTicks.map(s => (
        <g key={s}>
          <line x1={AXIS_R} x2={AXIS_R + TICK} y1={yS(s)} y2={yS(s)} stroke="#000" strokeWidth={3.5} />
          <text
            transform={`translate(4430,${yS(s)}) rotate(-90)`}
            textAnchor="middle"
            fontSize={50}
            textLength={88}
            lengthAdjust="spacingAndGlyphs"
          >
            {s.toFixed(1)}
          </text>
        </g>
      ))}
      <text transform={`translate(4530,${midY}) rotate(-90)`} textAnchor="middle" fontSize={51}>Salinity</text>
    </g>
  );
};

const Legends: React.FC = () => {
  const columns = [[442, 517], [683, 758], [923, 998], [1163, 1239]];
  const rows = [[355, 387], [411, 443]];
  const layout = [['AW', 'CAW'], ['TAW', 'IW'], ['LW', 'WCW'], ['SW']];
  return (
    <g fontFamily={FONT}>
      <rect x={400} y={146} width={416} height={111} fill="#fff" stroke="#000" strokeWidth={3} />
      <line x1={438} x2={529} y1={202} y2={202} stroke="#E41A1C" strokeWidth={9} strokeLinecap="round" />
      <text x={582} y={218} fontSize={45} textAnchor="middle">T</text>
      <line x1={636} x2={727} y1={202} y2={202} stroke="#333333" strokeWidth={9} strokeLinecap="round" />
      <text x={780} y={218} fontSize={45} textAnchor="middle">S</text>

      <rect x={400} y={314} width={983} height={167} fill="#fff" stroke="#000" strokeWidth={3} />
      {layout.map((col, c) => col.map((name, r) => (
        <g key={name}>
          <rect x={columns[c][0]} y={rows[r][0]} width={35} height={30} fill={legendColors[name]} stroke="#000" strokeWidth={2.5} />
          <text x={columns[c][1]} y={rows[r][1]} fontSize={45}>{name}</text>
        </g>
      )))}
    </g>
  );
};

export default function App() {
  return (
    <svg
      viewBox="0 0 4550 2458"
      preserveAspectRatio="none"
      style={{ position: 'fixed', left: 0, top: 0, width: '100vw', height: '100vh', background: '#fff' }}
    >
      <Panel
        letter="A" letterY={65}
        title="Temporal water masses evolution at 25m" titleY={52}
        axisTop={62} axisBottom={1112}
        bandTop={101} bandBottom={1075}
        bandStart={bandsAStart} bands={bandsA}
        stars={starsA} starY={1035}
        temp={tempA} sal={salA}
        tempDomain={[-2, 7]} tempRange={[1101.4, 89.8]}
        salDomain={[33, 35]} salRange={[946, 239]}
        tempTicks={tempTicksA} tempLabels={tempLabelsA} salTicks={salTicksA}
      />
      <Panel
        letter="B" letterY={1299}
        title="Temporal water masses evolution at 85m" titleY={1285}
        axisTop={1297} axisBottom={2347}
        bandTop={1336} bandBottom={2309.5}
        bandStart={bandsBStart} bands={bandsB}
        stars={starsB} starY={2246}
        temp={tempB} sal={salB}
        tempDomain={[-2, 6]} tempRange={[2335.2, 1316.8]}
        salDomain={[34.2, 35]} salRange={[2171, 1433]}
        tempTicks={tempTicksB} tempLabels={tempLabelsB} salTicks={salTicksB}
      />
      <Legends />
    </svg>
  );
}
